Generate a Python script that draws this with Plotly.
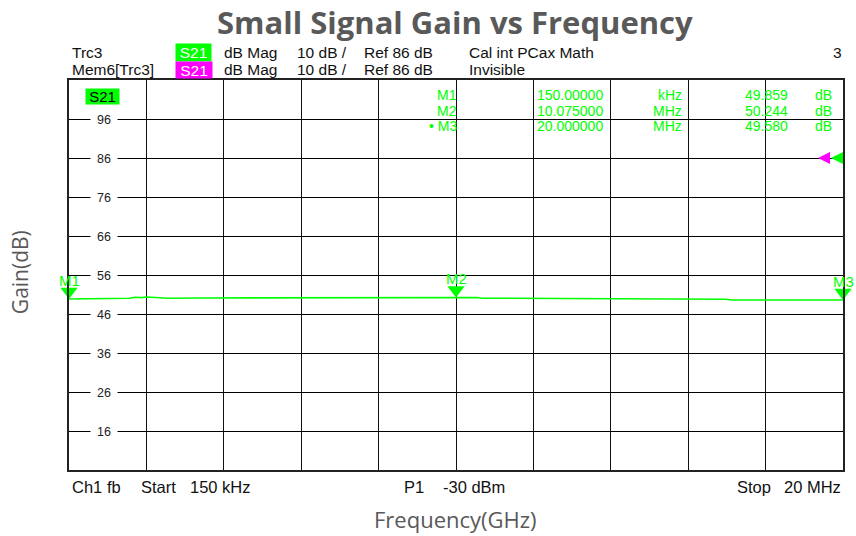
import plotly.graph_objects as go

# ---------------- data ----------------
title_text = "Small Signal Gain vs Frequency"
x_title = "Frequency(GHz)"
y_title = "Gain(dB)"

x_start_mhz = 0.15
x_stop_mhz = 20.0
x_divisions = 10
y_ref_level = 86
y_scale_db = 10
y_bottom = 6
y_top = 106
y_tick_values = [96, 86, 76, 66, 56, 46, 36, 26, 16]

freq_mhz = [0.15, 0.6, 1.2, 1.7, 1.85, 2.0, 2.15, 2.3, 2.5, 2.7, 3.5, 4.5, 5.5,
            6.5, 7.5, 8.5, 9.5, 10.075, 10.6, 10.75, 11.5, 12.5, 13.5, 14.0,
            14.15, 15.0, 16.0, 17.0, 17.15, 18.0, 19.0, 20.0]
gain_db = [49.859, 49.95, 50.0, 50.05, 50.3, 50.2, 50.35, 50.25, 50.3, 50.05,
           50.1, 50.12, 50.15, 50.18, 50.2, 50.22, 50.23, 50.244, 50.24, 50.05,
           50.02, 50.0, 49.98, 49.97, 49.85, 49.83, 49.82, 49.8, 49.6, 49.6,
           49.59, 49.58]

marker_names = ["M1", "M2", "M3"]
marker_freq_mhz = [0.15, 10.075, 20.0]
marker_gain_db = [49.859, 50.244, 49.580]

header_row1 = ["Trc3", "S21", "dB Mag", "10 dB /", "Ref 86 dB", "Cal int PCax Math", "3"]
header_row2 = ["Mem6[Trc3]", "S21", "dB Mag", "10 dB /", "Ref 86 dB", "Invisible"]
footer = ["Ch1", "fb", "Start", "150 kHz", "P1", "-30 dBm", "Stop", "20 MHz"]

# ---------------- styling / layout ----------------
W, H = 856, 536
L, R, T, B = 69, 845, 80, 470
GREEN = "#00ff00"
MAGENTA = "#ff00ff"
GRAY = "#595959"
SANS = "Liberation Sans, Arial, sans-serif"
TITLE_FONT = "Open Sans, Lato, sans-serif"
FS = 16.5
HS = 15.5
ROW1, ROW2 = 52, 69.5


def px(x):
    return (x - L) / (R - L)


def py(y):
    return (B - y) / (B - T)


fig = go.Figure()

fig.add_trace(go.Scatter(
    x=freq_mhz, y=gain_db, mode="lines",
    line=dict(color=GREEN, width=1.6), hoverinfo="skip", showlegend=False,
))

# marker triangles: tip on the trace
msize = 15
px_per_db = (B - T) / (y_top - y_bottom)
tri_offset = (msize / 2) / px_per_db
fig.add_trace(go.Scatter(
    x=marker_freq_mhz, y=[g + tri_offset for g in marker_gain_db],
    mode="markers", marker=dict(symbol="triangle-down", size=msize, color=GREEN),
    cliponaxis=False, hoverinfo="skip", showlegend=False,
))

ann = []


def text(x, y, s, size=FS, color="#111111", anchor="left", **kw):
    ann.append(dict(x=px(x), y=py(y), xref="paper", yref="paper", text=s,
                    showarrow=False, xanchor=anchor, yanchor="middle",
                    font=dict(family=SANS, size=size, color=color), **kw))


# header row 1
text(70, ROW1, header_row1[0], size=HS)
ann.append(dict(x=px(193.5), y=py(52.5), xref="paper", yref="paper", text=header_row1[1],
                showarrow=False, xanchor="center", yanchor="middle", bgcolor=GREEN,
                width=35, height=17, borderpad=0,
                font=dict(family=SANS, size=HS, color="white")))
text(222, ROW1, header_row1[2], size=HS)
text(296, ROW1, header_row1[3], size=HS)
text(363, ROW1, header_row1[4], size=HS)
text(468, ROW1, header_row1[5], size=HS)
text(846, ROW1, header_row1[6], size=HS, anchor="right")
# header row 2
text(70, ROW2, header_row2[0], size=HS)
ann.append(dict(x=px(194), y=py(69.5), xref="paper", yref="paper", text=header_row2[1],
                showarrow=False, xanchor="center", yanchor="middle", bgcolor=MAGENTA,
                width=36, height=16, borderpad=0,
                font=dict(family=SANS, size=HS, color="white")))
text(222, ROW2, header_row2[2], size=HS)
text(296, ROW2, header_row2[3], size=HS)
text(363, ROW2, header_row2[4], size=HS)
text(468, ROW2, header_row2[5], size=HS)

# in-plot trace label
ann.append(dict(x=px(102.5), y=py(96.5), xref="paper", yref="paper", text="S21",
                showarrow=False, xanchor="center", yanchor="middle", bgcolor=GREEN,
                width=33, height=15, borderpad=0,
                font=dict(family=SANS, size=15, color="black")))

# marker table
rows_y = [95, 110.5, 126]
for i, (name, f, g) in enumerate(zip(marker_names, marker_freq_mhz, marker_gain_db)):
    if f < 1:
        fs, unit = f"{f * 1000:.5f}", "kHz"
    else:
        fs, unit = f"{f:.6f}", "MHz"
    y = rows_y[i]
    label = ("\u2022 " + name) if i == 2 else name
    kw = dict(size=14, color=GREEN)
    text(460, y, label, anchor="right", **kw)
    text(536, y, fs, **kw)
    text(686, y, unit, anchor="right", **kw)
    text(792, y, f"{g:.3f}", anchor="right", **kw)
    text(836, y, "dB", anchor="right", **kw)

# y tick labels drawn inside the grid, with a white gap
for v in y_tick_values:
    ann.append(dict(x=px(104.5), y=v, xref="paper", yref="y", text=str(v),
                    showarrow=False, xanchor="center", yanchor="middle",
                    bgcolor="white", width=26, height=11, borderpad=0,
                    font=dict(family=SANS, size=12.5, color="#222222")))

# marker labels above triangles
for name, f, g in zip(marker_names, marker_freq_mhz, marker_gain_db):
    ann.append(dict(x=f, y=g, xref="x", yref="y", text=name, showarrow=False,
                    xanchor="center", yanchor="bottom", yshift=8,
                    font=dict(family=SANS, size=15, color=GREEN)))

# footer
text(70, 487, footer[0])
text(105, 487, footer[1])
text(139, 487, footer[2])
text(188, 487, footer[3])
text(403, 487, footer[4])
text(442, 487, footer[5])
text(737, 487, footer[6])
text(845, 487, footer[7], anchor="right")

# axis titles and title
ann.append(dict(x=px(456), y=py(519), xref="paper", yref="paper", text=x_title,
                showarrow=False, xanchor="center", yanchor="middle",
                font=dict(family=TITLE_FONT, size=22, color=GRAY)))
ann.append(dict(x=px(20), y=py(272), xref="paper", yref="paper", text=y_title,
                showarrow=False, xanchor="center", yanchor="middle", textangle=-90,
                font=dict(family=TITLE_FONT, size=21, color=GRAY)))
ann.append(dict(x=px(456), y=py(22), xref="paper", yref="paper",
                text="<b>" + title_text + "</b>",
                showarrow=False, xanchor="center", yanchor="middle",
                font=dict(family=TITLE_FONT, size=31, color=GRAY)))

# reference level arrows (right edge)
shapes = [
    dict(type="path", xref="paper", yref="y", xsizemode="pixel", ysizemode="pixel",
         xanchor=1, yanchor=y_ref_level, path="M-25,0 L-13,6 L-13,-6 Z",
         fillcolor=MAGENTA, line=dict(width=0)),
    dict(type="path", xref="paper", yref="y", xsizemode="pixel", ysizemode="pixel",
         xanchor=1, yanchor=y_ref_level, path="M-12,0 L0,6 L0,-6 Z",
         fillcolor=GREEN, line=dict(width=0)),
]

x_step = (x_stop_mhz - x_start_mhz) / x_divisions

fig.update_layout(
    width=W, height=H,
    margin=dict(l=L, r=W - R, t=T, b=H - B, pad=0),
    paper_bgcolor="white", plot_bgcolor="white",
    showlegend=False,
    annotations=ann, shapes=shapes,
    xaxis=dict(range=[x_start_mhz, x_stop_mhz], tick0=x_start_mhz, dtick=x_step,
               showgrid=True, gridcolor="#111111", gridwidth=1.2, showticklabels=False,
               ticks="", zeroline=False, showline=True, linecolor="#222222",
               linewidth=1.5, mirror=True, fixedrange=True),
    yaxis=dict(range=[y_bottom, y_top], tick0=y_bottom, dtick=y_scale_db,
               showgrid=True, gridcolor="black", gridwidth=1, showticklabels=False,
               ticks="", zeroline=False, showline=True, linecolor="#222222",
               linewidth=1.5, mirror=True, fixedrange=True),
)

fig.write_html("out.html", config={"displayModeBar": False},
               post_script="document.body.style.margin='0';document.body.style.overflow='hidden';")
